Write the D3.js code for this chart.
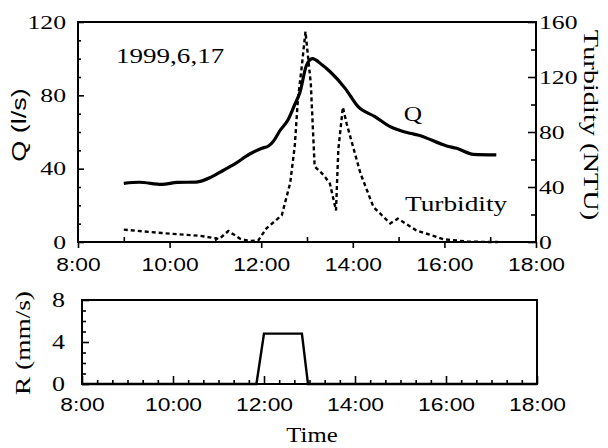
<!DOCTYPE html>
<html>
<head>
<meta charset="utf-8">
<script src="https://cdn.jsdelivr.net/npm/d3@7"></script>
<style>
  html, body { margin: 0; padding: 0; background: #fff; }
  svg { display: block; }
</style>
</head>
<body>
<svg id="chart" width="608" height="448"></svg>
<script>
// ---------------- DATA ----------------
const qTimes = ["9:00","9:20","9:50","10:10","10:35","10:55","11:10","11:25","11:45","12:00","12:10","12:16","12:25","12:35","12:44","12:51","12:59","13:07","13:20","13:30","13:50","14:07","14:29","14:49","15:15","15:25","16:03","16:16","16:38","17:08"];
const qValues = [32,32.6,31.4,32.5,32.7,35.5,39,42.5,48,51,52.5,55,61,66.5,75,82,96,100,96.5,93,83.8,73.8,68.4,62.9,59.3,58.4,52.4,51.1,47.8,47.5];

const turbTimes = ["9:00","9:50","10:40","11:05","11:17","11:32","11:45","11:56","12:07","12:27","12:38","12:44","12:48","12:53","12:58","13:05","13:10","13:22","13:30","13:38","13:41","13:47","13:52","14:10","14:27","14:49","14:59","15:23","15:59","16:30","17:00","17:10"];
const turbValues = [9,6.5,4.5,2.2,8,2.5,0.7,1,10,19.5,43,70,103,127,153,115,55,48.5,42.5,23,67,98,86,50,25.5,13.5,17,8.5,2,0.3,0,0];

const rainTimes = ["8:00","11:50","12:00","12:50","12:58","18:00"];
const rainValues = [0,0,4.8,4.8,0,0];

const xTickHours = [8,10,12,14,16,18];
const xTickLabels = ["8:00","10:00","12:00","14:00","16:00","18:00"];
const qTicks = [0,40,80,120];
const turbTicks = [0,40,80,120,160];
const rainTicks = [0,4,8];

// ---------------- HELPERS ----------------
const toH = s => { const [h,m] = s.split(":").map(Number); return h + m/60; };
const svg = d3.select("#chart");
const SERIF = "'Liberation Serif', 'Times New Roman', serif";
const SANS = "'Liberation Sans', Arial, sans-serif";
function stretch(sel, k) {
  sel.each(function() {
    const w = this.getComputedTextLength();
    if (w > 0) {
      d3.select(this).attr("textLength", (w * k).toFixed(1)).attr("lengthAdjust", "spacingAndGlyphs");
    }
  });
}
function styleAxis(g, font, size, k) {
  g.select(".domain").remove();
  g.selectAll(".tick line").attr("stroke", "#000").attr("stroke-width", 1.6);
  g.selectAll(".tick text").attr("fill", "#000").style("font-family", font).style("font-size", size + "px");
  stretch(g.selectAll(".tick text"), k);
}

// ---------------- TOP PANEL ----------------
const x1 = d3.scaleLinear().domain([8, 18]).range([78, 536]);
const yQ = d3.scaleLinear().domain([0, 120]).range([242, 22]);
const yT = d3.scaleLinear().domain([0, 160]).range([242, 22]);

// x axis: even hours labelled (ticks down), odd hours ticks up
const gx1 = svg.append("g").attr("transform", "translate(0,242)")
  .call(d3.axisBottom(x1).tickValues(xTickHours).tickSize(6).tickPadding(10)
    .tickFormat((d, i) => xTickLabels[i]));
styleAxis(gx1, SANS, 19, 1.2);
const gx1m = svg.append("g").attr("transform", "translate(0,242)")
  .call(d3.axisBottom(x1).tickValues(d3.range(9, 18, 2)).tickSize(-5).tickFormat(""));
styleAxis(gx1m, SANS, 19, 1);

// left Q axis
const gq = svg.append("g").attr("transform", "translate(78,0)")
  .call(d3.axisLeft(yQ).tickValues(qTicks).tickSize(-6).tickPadding(12));
styleAxis(gq, SERIF, 19, 1.35);
const gqm = svg.append("g").attr("transform", "translate(78,0)")
  .call(d3.axisLeft(yQ).tickValues(d3.range(10, 120, 10).filter(v => v % 40 !== 0)).tickSize(-3).tickFormat(""));
styleAxis(gqm, SERIF, 19, 1);

// right turbidity axis
const gt = svg.append("g").attr("transform", "translate(536,0)")
  .call(d3.axisRight(yT).tickValues(turbTicks).tickSize(-8).tickPadding(3));
styleAxis(gt, SERIF, 19, 1.35);
const gtm = svg.append("g").attr("transform", "translate(536,0)")
  .call(d3.axisRight(yT).tickValues(d3.range(20, 160, 40)).tickSize(-5).tickFormat(""));
styleAxis(gtm, SERIF, 19, 1);

// frame
svg.append("rect").attr("x", 78).attr("y", 22).attr("width", 536 - 78).attr("height", 242 - 22)
  .attr("fill", "none").attr("stroke", "#000").attr("stroke-width", 2);

// lines
const qData = qTimes.map((t, i) => [toH(t), qValues[i]]);
const tData = turbTimes.map((t, i) => [toH(t), turbValues[i]]);
svg.append("path").datum(tData)
  .attr("fill", "none").attr("stroke", "#000").attr("stroke-width", 2.4)
  .attr("stroke-dasharray", "4,3")
  .attr("d", d3.line().x(d => x1(d[0])).y(d => yT(d[1])));
svg.append("path").datum(qData)
  .attr("fill", "none").attr("stroke", "#000").attr("stroke-width", 3.2)
  .attr("stroke-linejoin", "round")
  .attr("d", d3.line().curve(d3.curveMonotoneX).x(d => x1(d[0])).y(d => yQ(d[1])));

// annotations
const ann = [
  {t: "1999,6,17", x: 116, y: 63, size: 22, k: 1.23, anchor: "start"},
  {t: "Q", x: 413, y: 121, size: 22, k: 1.15, anchor: "middle"},
  {t: "Turbidity", x: 405, y: 211, size: 21, k: 1.3, anchor: "start"},
  {t: "Time", x: 312, y: 442, size: 21, k: 1.18, anchor: "middle"}
];
ann.forEach(a => {
  const el = svg.append("text").attr("x", a.x).attr("y", a.y).attr("text-anchor", a.anchor)
    .style("font-family", SERIF).style("font-size", a.size + "px").attr("fill", "#000").text(a.t);
  stretch(el, a.k);
});

// axis titles
const tq = svg.append("text").attr("transform", "translate(26,125) rotate(-90)")
  .attr("text-anchor", "middle").style("font-family", SANS).style("font-size", "20px").text("Q (l/s)");
stretch(tq, 1.35);
const tt = svg.append("text").attr("transform", "translate(584,125) rotate(90)")
  .attr("text-anchor", "middle").style("font-family", SERIF).style("font-size", "21px").text("Turbidity (NTU)");
stretch(tt, 1.35);

// ---------------- BOTTOM PANEL ----------------
const x2 = d3.scaleLinear().domain([8, 18]).range([82, 537]);
const yR = d3.scaleLinear().domain([0, 8]).range([384, 300]);

const gx2 = svg.append("g").attr("transform", "translate(0,384)")
  .call(d3.axisBottom(x2).tickValues(xTickHours).tickSize(-8).tickPadding(14)
    .tickFormat((d, i) => xTickLabels[i]));
styleAxis(gx2, SANS, 19, 1.2);
const minor20 = d3.range(8 + 1/3, 18, 1/3).filter(v => Math.abs(v / 2 - Math.round(v / 2)) > 0.01);
const gx2m = svg.append("g").attr("transform", "translate(0,384)")
  .call(d3.axisBottom(x2).tickValues(minor20).tickSize(-4).tickFormat(""));
styleAxis(gx2m, SANS, 19, 1);

const gr = svg.append("g").attr("transform", "translate(82,0)")
  .call(d3.axisLeft(yR).tickValues(rainTicks).tickSize(-7).tickPadding(17));
styleAxis(gr, SERIF, 20, 1.3);
const grm = svg.append("g").attr("transform", "translate(82,0)")
  .call(d3.axisLeft(yR).tickValues([1,2,3,5,6,7]).tickSize(-4).tickFormat(""));
styleAxis(grm, SERIF, 19, 1);

svg.append("rect").attr("x", 82).attr("y", 300).attr("width", 537 - 82).attr("height", 84)
  .attr("fill", "none").attr("stroke", "#000").attr("stroke-width", 2);

const rData = rainTimes.map((t, i) => [toH(t), rainValues[i]]);
svg.append("path").datum(rData)
  .attr("fill", "none").attr("stroke", "#000").attr("stroke-width", 2.4)
  .attr("d", d3.line().x(d => x2(d[0])).y(d => yR(d[1])));

const tr = svg.append("text").attr("transform", "translate(30,343) rotate(-90)")
  .attr("text-anchor", "middle").style("font-family", SERIF).style("font-size", "21px").text("R (mm/s)");
stretch(tr, 1.3);
</script>
</body>
</html>
